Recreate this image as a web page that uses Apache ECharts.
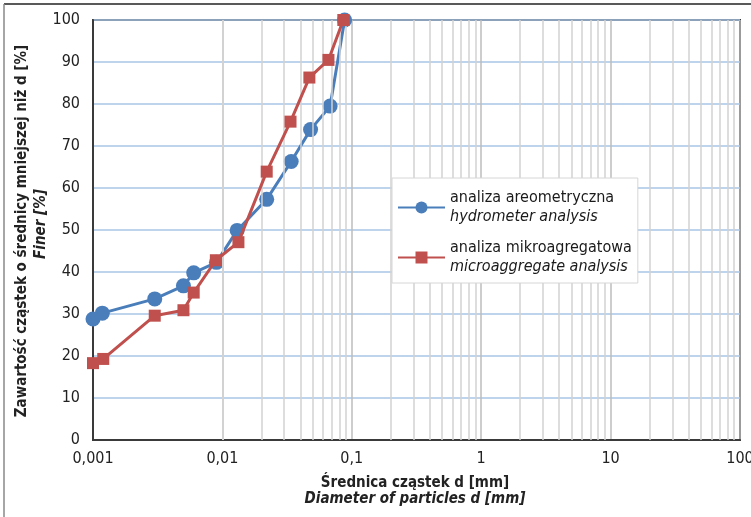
<!DOCTYPE html>
<html>
<head>
    <meta charset="utf-8">
    <title>Finer curve</title>
    <script src="https://cdn.jsdelivr.net/npm/echarts@6/dist/echarts.min.js"></script>
</head>
<body style="margin:0;background:#fff">
    <div id="main" style="width: 751px;height:517px;"></div>
    <script type="text/javascript">

    // data
    var hydroD = [0.001, 0.00118, 0.003, 0.005, 0.006, 0.009, 0.013, 0.022, 0.034, 0.048, 0.068, 0.088];
    var hydroFiner = [28.8, 30.2, 33.6, 36.7, 39.8, 42.3, 49.9, 57.3, 66.3, 73.9, 79.5, 100];
    var microD = [0.001, 0.0012, 0.003, 0.005, 0.006, 0.0089, 0.0133, 0.022, 0.0336, 0.047, 0.066, 0.086];
    var microFiner = [18.3, 19.3, 29.6, 30.9, 35.1, 42.8, 47.1, 63.9, 75.8, 86.3, 90.5, 100];
    var xTickLabels = ['0,001', '0,01', '0,1', '1', '10', '100'];
    var seriesNames = ['analiza areometryczna\nhydrometer analysis', 'analiza mikroagregatowa\nmicroaggregate analysis'];

    var font = '"Liberation Sans Narrow", "DejaVu Sans Condensed", "Liberation Sans", sans-serif';

    function pairs(xs, ys) {
        var out = [];
        for (var i = 0; i < xs.length; i++) out.push([xs[i], ys[i]]);
        return out;
    }

    // minor log grid lines 2..9 in every decade
    var minorLines = [];
    for (var e = -3; e < 2; e++) {
        for (var m = 2; m <= 9; m++) {
            minorLines.push({ xAxis: m * Math.pow(10, e) });
        }
    }

    var myChart = echarts.init(document.getElementById('main'));

    var option = {
        animation: false,
        textStyle: { fontFamily: font },
        grid: {
            left: 93, top: 20, right: 11, bottom: 77,
            outerBoundsMode: 'none',
            containLabel: false,
            show: true, borderColor: '#3a3a3a', borderWidth: 2
        },
        xAxis: {
            type: 'log',
            logBase: 10,
            min: 0.001,
            max: 100,
            axisLine: { lineStyle: { color: '#3a3a3a', width: 2 } },
            axisTick: { show: false },
            axisLabel: {
                color: '#222', fontSize: 16, margin: 11,
                formatter: function (v) {
                    return xTickLabels[Math.round(Math.log10(v)) + 3];
                }
            },
            splitLine: { show: true, lineStyle: { color: '#bcbcbc', width: 1.5 } }
        },
        yAxis: {
            type: 'value',
            min: 0, max: 100, interval: 10,
            axisLine: { show: true, lineStyle: { color: '#3a3a3a', width: 2 } },
            axisTick: { show: false },
            axisLabel: { color: '#222', fontSize: 16, margin: 13 },
            splitLine: { show: true, lineStyle: { color: '#a9c6e6', width: 1.5 } }
        },
        legend: {
            orient: 'vertical',
            left: 392, top: 178,
            z: 50,
            padding: [12, 6, 8, 5],
            backgroundColor: '#fff',
            borderColor: '#d6d6d6',
            borderWidth: 1,
            itemWidth: 47,
            itemHeight: 15,
            itemGap: 15,
            data: [seriesNames[0], seriesNames[1]],
            formatter: function (name) {
                var p = name.split('\n');
                return '{a|' + p[0] + '}\n{b|' + p[1] + '}';
            },
            textStyle: {
                rich: {
                    a: { fontSize: 16, color: '#1a1a1a', lineHeight: 19, fontFamily: font },
                    b: { fontSize: 16, color: '#1a1a1a', lineHeight: 19, fontStyle: 'italic', fontFamily: font }
                }
            }
        },
        graphic: [
            { type: 'line', shape: { x1: 4, y1: 4, x2: 751, y2: 4 }, style: { stroke: '#222', lineWidth: 1.5 } },
            { type: 'line', shape: { x1: 4, y1: 4, x2: 4, y2: 517 }, style: { stroke: '#888', lineWidth: 1.5 } },
            {
                type: 'text', x: 415, y: 483,
                style: { text: 'Średnica cząstek d [mm]', font: 'bold 15px ' + font, fill: '#222', textAlign: 'center', textVerticalAlign: 'middle' }
            },
            {
                type: 'text', x: 415, y: 499,
                style: { text: 'Diameter of particles d [mm]', font: 'italic bold 15px ' + font, fill: '#222', textAlign: 'center', textVerticalAlign: 'middle' }
            },
            {
                type: 'text', x: 22, y: 231, rotation: Math.PI / 2,
                style: { text: 'Zawartość cząstek o średnicy mniejszej niż d [%]', font: 'bold 15px ' + font, fill: '#222', textAlign: 'center', textVerticalAlign: 'middle' }
            },
            {
                type: 'text', x: 41, y: 224, rotation: Math.PI / 2,
                style: { text: 'Finer [%]', font: 'italic bold 15px ' + font, fill: '#222', textAlign: 'center', textVerticalAlign: 'middle' }
            }
        ],
        series: [
            {
                type: 'line',
                name: 'minor',
                data: [],
                z: 1,
                silent: true,
                markLine: {
                    silent: true,
                    symbol: 'none',
                    label: { show: false },
                    lineStyle: { color: '#d2d2d2', width: 1.5, type: 'solid' },
                    data: minorLines
                }
            },
            {
                type: 'line',
                name: seriesNames[0],
                data: pairs(hydroD, hydroFiner),
                symbol: 'circle',
                symbolSize: 15,
                z: 4,
                lineStyle: { color: '#4a7ebb', width: 3 },
                itemStyle: { color: '#4a7ebb' }
            },
            {
                type: 'line',
                name: seriesNames[1],
                data: pairs(microD, microFiner),
                symbol: 'rect',
                symbolSize: 12,
                z: 5,
                lineStyle: { color: '#c0504d', width: 3 },
                itemStyle: { color: '#c0504d' }
            }
        ]
    };

    myChart.setOption(option);
    </script>
</body>
</html>
